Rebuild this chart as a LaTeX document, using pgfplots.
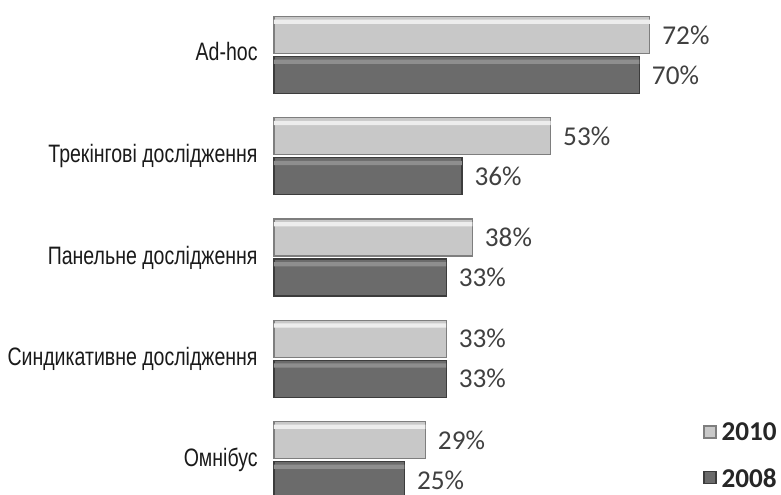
\documentclass[border=0pt]{standalone}
\usepackage{fontspec}
\setmainfont{Liberation Sans}
\newfontfamily\catfont{Liberation Sans}[FakeStretch=0.775]
\newfontfamily\valfont{Carlito}
\usepackage{pgfplots}
\pgfplotsset{compat=1.18}

\definecolor{lightmid}{HTML}{C8C8C8}
\definecolor{lighthi}{HTML}{EDEDED}
\definecolor{lightedge}{HTML}{7E7E7E}
\definecolor{darkmid}{HTML}{6B6B6B}
\definecolor{darkhi}{HTML}{8E8E8E}
\definecolor{darkedge}{HTML}{3C3C3C}
\definecolor{cattext}{HTML}{1A1A1A}
\definecolor{valtext}{HTML}{404040}
\definecolor{legtext}{HTML}{262626}

\pgfplotstableread{
y v2010 v2008
4 72 70
3 53 36
2 38 33
1 33 33
0 29 25
}\shares

\begin{document}
\begin{tikzpicture}
\begin{axis}[
    xbar,
    scale only axis,
    width=234.9pt, height=247pt,
    xmin=0, xmax=90,
    ymin=-0.336, ymax=4.543,
    bar width=18.5pt,
    clip=false,
    hide x axis,
    axis line style={draw=none},
    ytick={0,1,2,3,4},
    yticklabels={Омнібус, Синдикативне дослідження, Панельне дослідження,
                 Трекінгові дослідження, \raisebox{3.5pt}{Ad-hoc}},
    major tick length=0pt,
    ytick style={draw=none},
    yticklabel style={font=\catfont\fontsize{12.6}{14}\selectfont,
                      text=cattext, inner sep=0pt, xshift=-8pt},
    /pgf/number format/assume math mode=true,
    every node near coord/.append style={font=\valfont\fontsize{13.6}{15}\selectfont,
                      text=valtext, anchor=west, inner sep=0pt, xshift=6pt},
    legend style={at={(0.913,0.079)}, anchor=west, draw=none, fill=none,
                  inner sep=0pt, row sep=13.7pt, cells={anchor=west},
                  font=\valfont\bfseries\fontsize{13.6}{15}\selectfont,
                  text=legtext, nodes={inner sep=0pt, text depth=0pt},
                  /tikz/every odd column/.append style={column sep=2.5pt}},
    legend image code/.code={\draw[#1] (0pt,-3pt) rectangle (6pt,3pt);},
]
% 2010
\addplot[bar shift=10pt, draw=lightedge, line width=0.6pt, fill=lightmid,
         nodes near coords={\pgfmathprintnumber{\pgfplotspointmeta}\%}]
    table[x=v2010, y=y] {\shares};
% 2008
\addplot[bar shift=-10pt, draw=darkedge, line width=0.6pt, fill=darkmid,
         nodes near coords={\pgfmathprintnumber{\pgfplotspointmeta}\%}]
    table[x=v2008, y=y] {\shares};
\legend{2010, 2008}
% bevel highlights along the top of each bar
\addplot[forget plot, bar shift=16.6pt, bar width=2.2pt, draw=none, fill=lighthi]
    table[x=v2010, y=y] {\shares};
\addplot[forget plot, bar shift=-3.4pt, bar width=2.2pt, draw=none, fill=darkhi]
    table[x=v2008, y=y] {\shares};

\coordinate (bbsw) at (axis cs:-52.49,-0.336);
\coordinate (bbne) at (axis cs:97.13,4.543);
\end{axis}
\pgfresetboundingbox
\path[use as bounding box] (bbsw) rectangle (bbne);
\end{tikzpicture}
\end{document}
